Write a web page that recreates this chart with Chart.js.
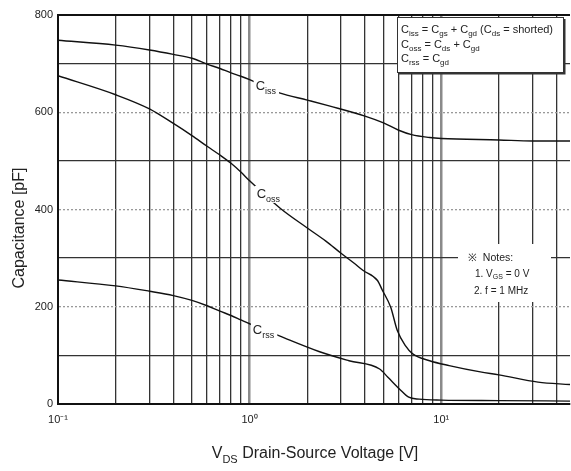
<!DOCTYPE html>
<html>
<head>
<meta charset="utf-8">
<script src="https://cdn.jsdelivr.net/npm/chart.js@4.4.0/dist/chart.umd.min.js"></script>
<style>
  html,body{margin:0;padding:0;background:#fff;}
  #wrap{width:571px;height:471px;}
</style>
</head>
<body>
<div id="wrap"><canvas id="chart" width="571" height="471"></canvas></div>
<script>
// values (V, pF)
const vIss = [0.1,0.2,0.3,0.4,0.5,0.6,0.7,0.8,0.9,1.0,1.43,2.0,2.6,4.0,5.0,6.0,7.0,8.7,10,20,30,47];
const cIss = [748,738,728,719,711,699,690,681,674,667,640,625,613,592,578,563,554,548,546,543,541,541];
const vOss = [0.1,0.2,0.3,0.4,0.5,0.6,0.7,0.8,0.9,1.0,1.46,2.0,2.5,3.0,3.5,3.9,4.65,4.93,5.45,5.9,6.5,7.1,8.7,11,16,20,32,47];
const cOss = [675,636,607,577,552,530,512,495,477,459,401,362,335,310,290,275,254,234,199,151,120,103,89,79,66,60,45,40];
const vRss = [0.1,0.2,0.3,0.4,0.5,0.6,0.7,0.8,0.9,1.0,1.43,2.3,3.3,4.77,5.27,6.05,6.77,7.67,10,20,47];
const cRss = [255,243,232,223,213,202,191,182,173,165,140,108,89,72,55,31,14,10,8,7,6];

const xTicks = [0.1,0.2,0.3,0.4,0.5,0.6,0.7,0.8,0.9,1,2,3,4,5,6,7,8,9,10,20,30,40];
const xLabels = {0.1:'10\u207B\u00B9', 1:'10\u2070', 10:'10\u00B9'};
const yLabels = [0,200,400,600,800];

const FONT = '"Liberation Sans", Arial, sans-serif';
const toXY = (xs, ys) => xs.map((x,i)=>({x, y: ys[i]}));

// draws text made of [str, isSub] parts, left aligned, middle baseline
function drawParts(ctx, parts, x, y, size){
  let cx = x;
  parts.forEach(([s, sub])=>{
    const fs = sub ? Math.round(size*0.7) : size;
    ctx.font = fs + 'px ' + FONT;
    ctx.fillText(s, cx, sub ? y + size*0.35 : y);
    cx += ctx.measureText(s).width;
  });
  return cx - x;
}
function partsWidth(ctx, parts, size){
  let w = 0;
  parts.forEach(([s, sub])=>{
    ctx.font = (sub ? Math.round(size*0.7) : size) + 'px ' + FONT;
    w += ctx.measureText(s).width;
  });
  return w;
}

// label anchors (left edge voltage, centre capacitance)
const curveLabels = [
  {v: 1.075, c: 653, sub: 'iss'},
  {v: 1.088, c: 430, sub: 'oss'},
  {v: 1.04, c: 151, sub: 'rss'}
];

const annot = {
  id: 'annot',
  beforeDatasetsDraw(chart){
    const ctx = chart.ctx;
    ctx.save();
    ctx.fillStyle = '#fff';
    ctx.fillRect(458, 244, 93, 58); // notes box
    ctx.restore();
  },
  afterDatasetsDraw(chart){
    const ctx = chart.ctx, xs = chart.scales.x, ys = chart.scales.y;
    ctx.save();
    ctx.textBaseline = 'middle';
    // curve labels
    curveLabels.forEach(l=>{
      const px = xs.getPixelForValue(l.v), py = ys.getPixelForValue(l.c);
      const parts = [['C', false], [l.sub, true]];
      const w = partsWidth(ctx, parts, 13);
      ctx.fillStyle = '#fff';
      ctx.fillRect(px - 2, py - 9, w + 5, 17);
      ctx.fillStyle = '#222';
      drawParts(ctx, parts, px, py, 13);
    });
    // legend box
    ctx.fillStyle = '#fff';
    ctx.fillRect(397, 17, 166, 55);
    ctx.strokeStyle = '#333'; ctx.lineWidth = 1;
    ctx.strokeRect(397.5, 17.5, 166, 55);
    ctx.lineWidth = 2;
    ctx.beginPath(); ctx.moveTo(399, 73.5); ctx.lineTo(564.5, 73.5); ctx.lineTo(564.5, 19); ctx.stroke();
    ctx.fillStyle = '#222';
    drawParts(ctx, [['C',0],['iss',1],[' = C',0],['gs',1],[' + C',0],['gd',1],[' (C',0],['ds',1],[' = shorted)',0]], 401, 30, 11);
    drawParts(ctx, [['C',0],['oss',1],[' = C',0],['ds',1],[' + C',0],['gd',1]], 401, 45, 11);
    drawParts(ctx, [['C',0],['rss',1],[' = C',0],['gd',1]], 401, 59, 11);
    // notes
    drawParts(ctx, [['\u203B  Notes:',0]], 468, 258, 10.5);
    drawParts(ctx, [['1. V',0],['GS',1],[' = 0 V',0]], 475, 274, 10);
    drawParts(ctx, [['2. f = 1 MHz',0]], 474, 291, 10);
    ctx.restore();
  },
  afterDraw(chart){
    const ctx = chart.ctx;
    ctx.save();
    ctx.fillStyle = '#222';
    ctx.textBaseline = 'middle';
    // y title
    ctx.translate(20, 228);
    ctx.rotate(-Math.PI/2);
    ctx.font = '16px ' + FONT;
    ctx.textAlign = 'center';
    ctx.fillText('Capacitance [pF]', 0, 0);
    ctx.setTransform(1,0,0,1,0,0);
    ctx.textAlign = 'left';
    // x title
    const parts = [['V',0],['DS',1],[' Drain-Source Voltage [V]',0]];
    const w = partsWidth(ctx, parts, 16);
    drawParts(ctx, parts, 315 - w/2, 454, 16);
    ctx.restore();
  }
};

const lineDs = (data) => ({
  data, borderColor:'#111', borderWidth:1.4, pointRadius:0, fill:false,
  tension:0.4, cubicInterpolationMode:'monotone'
});

new Chart(document.getElementById('chart'), {
  type:'line',
  data:{ datasets:[ lineDs(toXY(vIss,cIss)), lineDs(toXY(vOss,cOss)), lineDs(toXY(vRss,cRss)) ] },
  options:{
    responsive:false, animation:false, devicePixelRatio:1,
    layout:{ padding:{top:15, right:1, left:0, bottom:0} },
    plugins:{ legend:{display:false}, tooltip:{enabled:false} },
    scales:{
      x:{
        type:'logarithmic', min:0.1, max:47,
        afterBuildTicks: s => { s.ticks = xTicks.map(v=>({value:v})); },
        afterFit: s => { s.height = 67; },
        ticks:{ autoSkip:false, maxRotation:0, padding:9, color:'#222', font:{size:11, family:FONT},
          callback: v => xLabels[v] || '' },
        grid:{ drawTicks:false,
          color: c => (c.tick && [1,10].includes(c.tick.value)) ? '#8a8a8a' : '#333',
          lineWidth: c => (c.tick && [1,10].includes(c.tick.value)) ? 2.5 : 1.3 },
        border:{ color:'#111', width:2 }
      },
      y:{
        min:0, max:800,
        afterBuildTicks: s => { s.ticks = [0,100,200,300,400,500,600,700,800].map(v=>({value:v})); },
        afterFit: s => { s.width = 58; },
        ticks:{ padding:5, color:'#222', font:{size:11, family:FONT},
          callback: v => yLabels.includes(v) ? String(v) : '' },
        grid:{ drawTicks:false,
          color: c => { const v = c.tick ? c.tick.value : 0; return (v===800) ? '#111' : (v%200===0 ? '#999' : '#333'); },
          lineWidth: c => { const v = c.tick ? c.tick.value : 0; return v===800 ? 2 : 1.3; } },
        border:{ color:'#111', width:2,
          dash: c => { const v = c.tick ? c.tick.value : null; return (v!==null && v%200===0 && v!==0 && v!==800) ? [2,2] : []; } }
      }
    }
  },
  plugins:[annot]
});
</script>
</body>
</html>
